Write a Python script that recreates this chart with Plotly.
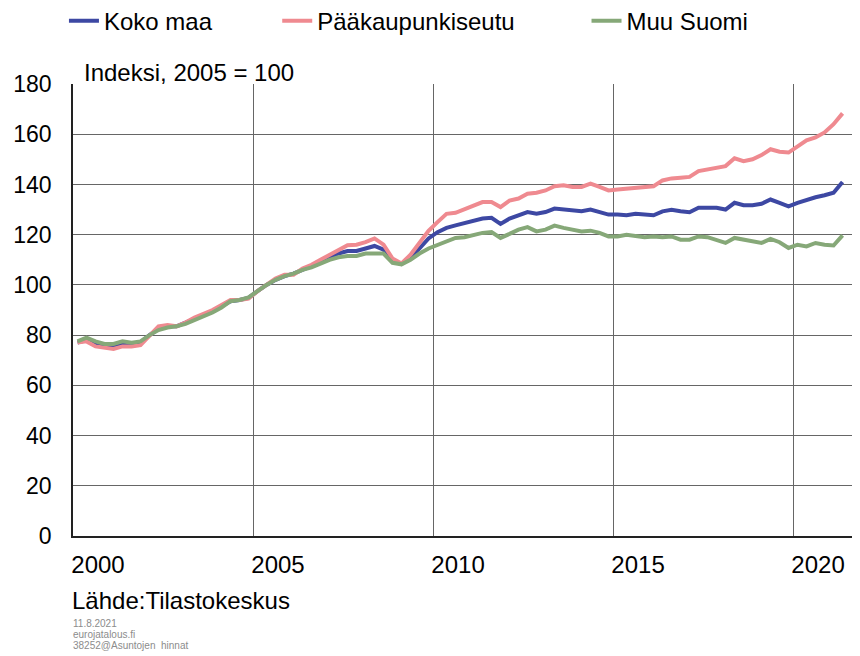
import plotly.graph_objects as go

# Quarterly data 2000Q1 .. 2021Q2 (index, 2005 = 100)
years = [y for y in range(2000, 2022) for q in range(4)][:86]
qnums = [q for y in range(2000, 2022) for q in range(1, 5)][:86]

koko_maa = [
    77, 78, 76.5, 75.5, 75.5, 76.5, 76.5, 77, 80, 82.5,
    83.5, 83.5, 85, 86.5, 88, 89.5, 91.5, 93.5, 94, 94.8,
    97.5, 100, 102, 103.5, 104.5, 106, 107.5, 109, 111, 112.5,
    113.5, 113.5, 114.5, 115.5, 114, 109.5, 108.3, 111, 114.5, 118.5,
    121, 122.7, 123.7, 124.7, 125.6, 126.4, 126.7, 124.3, 126.4, 127.6,
    129, 128.3, 129, 130.4, 130, 129.7, 129.3, 130, 129, 128,
    128, 127.7, 128.3, 128, 127.7, 129.3, 129.9, 129.3, 128.9, 130.7,
    130.9, 130.7, 130, 132.7, 131.7, 131.7, 132.3, 134, 132.7, 131.3,
    132.7, 134, 134.9, 135.7, 136.7, 141,
]
paakaupunkiseutu = [
    77, 77.5, 75.5, 74.8, 74.5, 75.5, 75.5, 76, 79.5, 83.5,
    84, 83.5, 85, 87, 88.5, 90, 92, 94, 94, 94.5,
    97.5, 100, 102.5, 104, 104, 106.5, 108, 110, 112, 114,
    115.8, 116, 117, 118.5, 116, 110.5, 108.5, 112, 117, 121.5,
    125, 128.3, 128.7, 130, 131.3, 133, 133, 131, 133.6, 134.4,
    136.3, 136.7, 137.6, 139.3, 139.7, 139, 139, 140.3, 139, 137.6,
    138, 138.4, 138.7, 139, 139.3, 141.6, 142.4, 142.7, 143, 145.3,
    146, 146.7, 147.3, 150.4, 149.3, 150, 151.7, 154, 153, 152.7,
    155.3, 157.6, 158.7, 160.7, 164, 168.3,
]
muu_suomi = [
    77.5, 79, 77.5, 76.5, 76.5, 77.5, 77, 77.5, 80, 82,
    83, 83.5, 84.5, 86, 87.5, 89, 91, 93.5, 94, 95,
    97.5, 100, 102, 103.5, 104.5, 106, 107, 108.5, 110, 111,
    111.5, 111.5, 112.5, 112.5, 112.5, 108.8, 108.2, 110, 112.5, 114.5,
    116, 117.3, 118.7, 119, 120, 120.7, 121, 118.7, 120.3, 122,
    123, 121.3, 122, 123.6, 122.7, 122, 121.3, 121.6, 120.7, 119.3,
    119.3, 120, 119.3, 119, 119.3, 119, 119.3, 118, 118, 119.3,
    119, 118, 116.7, 118.7, 118, 117, 116.7, 118.3, 117, 114.7,
    116, 115.3, 116.7, 116, 115.7, 119.7,
]

series_names = ["Koko maa", "Pääkaupunkiseutu", "Muu Suomi"]
tick_years = [2000, 2005, 2010, 2015, 2020]
tick_labels = ["2000", "2005", "2010", "2015", "2020"]
y_ticks = list(range(0, 181, 20))

x = [y + (q - 0.5) / 4 for y, q in zip(years, qnums)]

colors = ["#3d48a3", "#ef8a90", "#86a878"]
series = [koko_maa, paakaupunkiseutu, muu_suomi]
legends = ["legend", "legend2", "legend3"]

FONT = "Liberation Sans, Arial, sans-serif"

fig = go.Figure()
for name, vals, col, lg in zip(series_names, series, colors, legends):
    fig.add_trace(go.Scatter(
        x=x, y=vals, mode="lines", name=name,
        line=dict(color=col, width=4), legend=lg,
    ))

leg_common = dict(
    orientation="h", yanchor="middle", y=1.139, xanchor="left",
    font=dict(family=FONT, size=24, color="#000"),
    bgcolor="rgba(0,0,0,0)", borderwidth=0,
)

grid = "#666666"
fig.update_layout(
    width=852, height=648,
    margin=dict(l=65, r=0, t=76, b=120, autoexpand=False),
    paper_bgcolor="white", plot_bgcolor="white",
    font=dict(family=FONT, color="#000"),
    showlegend=True,
    legend=dict(x=-0.0115, **leg_common),
    legend2=dict(x=0.2595, **leg_common),
    legend3=dict(x=0.6525, **leg_common),
    xaxis=dict(
        range=[2000, 2021.86], tickmode="array", tickvals=tick_years,
        ticktext=tick_labels, ticklabelshift=25, ticklabelstandoff=6,
        showgrid=True, gridcolor=grid, gridwidth=1, zeroline=False,
        showline=True, linecolor="#222", linewidth=1.5, ticks="",
        automargin=False,
        tickfont=dict(family=FONT, size=24, color="#000"),
    ),
    yaxis=dict(
        range=[0, 180], tickmode="array", tickvals=y_ticks,
        showgrid=True, gridcolor=grid, gridwidth=1, zeroline=False,
        showline=True, linecolor="#222", linewidth=1.5, ticks="",
        ticklabelstandoff=15, automargin=False,
        tickfont=dict(family=FONT, size=23, color="#000"),
    ),
    annotations=[
        dict(text="Indeksi, 2005 = 100", xref="paper", yref="paper",
             x=0.011, y=1.026, xanchor="left", yanchor="middle",
             showarrow=False, font=dict(family=FONT, size=24, color="#000")),
        dict(text="Lähde:Tilastokeskus", xref="paper", yref="paper",
             x=-0.004, y=-0.1416, xanchor="left", yanchor="middle",
             showarrow=False, font=dict(family=FONT, size=24, color="#000")),
        dict(text="11.8.2021", xref="paper", yref="paper",
             x=-0.002, y=-0.193, xanchor="left", yanchor="middle",
             showarrow=False, font=dict(family=FONT, size=10, color="#8c8c8c")),
        dict(text="eurojatalous.fi", xref="paper", yref="paper",
             x=-0.002, y=-0.217, xanchor="left", yanchor="middle",
             showarrow=False, font=dict(family=FONT, size=10, color="#8c8c8c")),
        dict(text="38252@Asuntojen\u00a0 hinnat", xref="paper", yref="paper",
             x=-0.002, y=-0.243, xanchor="left", yanchor="middle",
             showarrow=False, font=dict(family=FONT, size=10, color="#8c8c8c")),
    ],
)

fig.write_html("out.html")
